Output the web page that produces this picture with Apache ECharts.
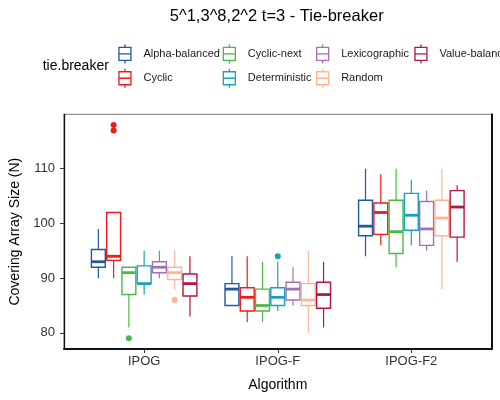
<!DOCTYPE html>
<html><head><meta charset="utf-8">
<script src="https://cdn.jsdelivr.net/npm/echarts@6/dist/echarts.min.js"></script>
<style>html,body{margin:0;padding:0;background:#fff}#c{width:500px;height:400px}</style>
</head><body><div id="c"></div>
<script>
const algorithms = ['IPOG', 'IPOG-F', 'IPOG-F2'];
const tieBreakers = ['Alpha-balanced', 'Cyclic', 'Cyclic-next', 'Deterministic', 'Lexicographic', 'Random', 'Value-balanced'];
const yTicks = [80, 90, 100, 110];
const xTicks = [1, 2, 3];

// [min, q1, median, q3, max] for IPOG, IPOG-F, IPOG-F2
const alphaBalanced = [[90, 92, 93, 95.25, 99], [85, 85, 88, 89, 94], [94, 97.75, 99.5, 104.25, 110]];
const cyclic        = [[90, 93.25, 94, 102, 102], [82, 84, 86.5, 88.25, 94], [96, 98, 102, 103.75, 109]];
const cyclicNext    = [[81, 87, 91, 92, 92], [82, 84, 85, 88, 93], [92, 94.5, 98.5, 104.25, 110]];
const deterministic = [[87, 89, 89, 92.25, 95], [84, 85, 86.5, 88.25, 93], [96, 98.75, 101.5, 105.5, 108]];
const lexicographic = [[90, 91, 92, 93, 95], [85, 86, 88, 89.25, 92], [95, 96, 99, 104, 106]];
const randomTB      = [[88, 89.75, 91, 92, 95], [80, 85, 86, 89, 95], [88, 97.75, 101, 104.25, 110]];
const valueBalanced = [[83, 86.75, 89, 90.75, 94], [81, 84.5, 87, 89.25, 93], [93, 97.5, 103, 106, 107]];

// outliers: [algorithm index, value]
const alphaBalancedOut = [];
const cyclicOut        = [[0, 117], [0, 118]];
const cyclicNextOut    = [[0, 79]];
const deterministicOut = [[1, 94]];
const lexicographicOut = [];
const randomOut        = [[0, 86]];
const valueBalancedOut = [];

const boxStats = [alphaBalanced, cyclic, cyclicNext, deterministic, lexicographic, randomTB, valueBalanced];
const outlierSets = [alphaBalancedOut, cyclicOut, cyclicNextOut, deterministicOut, lexicographicOut, randomOut, valueBalancedOut];
const colors = ['#1f5aa0', '#f01a1a', '#4cb847', '#1a9fbe', '#a46fb5', '#ffb594', '#b5173f'];

const FONT = '"Liberation Sans", Arial, Helvetica, sans-serif';
const slot = 0.8 / 7;
const halfW = 0.052;
const offsets = tieBreakers.map((_, j) => (j - 3) * slot);

const series = [];
boxStats.forEach((stats, j) => {
  const c = colors[j];
  series.push({
    type: 'custom',
    name: tieBreakers[j],
    coordinateSystem: 'cartesian2d',
    data: stats.map((s, i) => [xTicks[i]].concat(s)),
    encode: { x: 0, y: [1, 2, 3, 4, 5] },
    renderItem: function (params, api) {
      const xc = api.value(0) + offsets[j];
      const p = k => api.coord([xc, api.value(k)]);
      const L = api.coord([xc - halfW, api.value(3)])[0];
      const R = api.coord([xc + halfW, api.value(3)])[0];
      const pMin = p(1), pQ1 = p(2), pMed = p(3), pQ3 = p(4), pMax = p(5);
      const cx = pMin[0];
      return {
        type: 'group',
        children: [
          { type: 'line', shape: { x1: cx, y1: pMax[1], x2: cx, y2: pQ3[1] }, style: { stroke: c, lineWidth: 1.2 } },
          { type: 'line', shape: { x1: cx, y1: pQ1[1], x2: cx, y2: pMin[1] }, style: { stroke: c, lineWidth: 1.2 } },
          { type: 'rect', shape: { x: L, y: pQ3[1], width: R - L, height: pQ1[1] - pQ3[1] }, style: { fill: '#fff', stroke: c, lineWidth: 1.4 } },
          { type: 'line', shape: { x1: L, y1: pMed[1], x2: R, y2: pMed[1] }, style: { stroke: c, lineWidth: 2.8 } }
        ]
      };
    },
    z: 2
  });
  if (outlierSets[j].length) {
    series.push({
      type: 'scatter',
      name: tieBreakers[j],
      data: outlierSets[j].map(o => [xTicks[o[0]] + offsets[j], o[1]]),
      symbolSize: 6,
      itemStyle: { color: c, opacity: 1 },
      z: 3
    });
  }
});

const ICON = 'path://M0,3 L12,3 L12,16 L0,16 Z M6,0 L6,3 M6,16 L6,19 M0,9.5 L12,9.5';
const legendCols = [[0, 1], [2, 3], [4, 5], [6]];
const legendLefts = [118.3, 222.7, 316, 414.3];

const chart = echarts.init(document.getElementById('c'), null, { renderer: 'canvas' });
chart.setOption({
  animation: false,
  backgroundColor: '#fff',
  textStyle: { fontFamily: FONT },
  graphic: [
    { type: 'text', x: 276.7, y: 16, style: { text: '5^1,3^8,2^2 t=3 - Tie-breaker', fontSize: 16.5, fontFamily: FONT, fill: '#000', align: 'center', verticalAlign: 'middle' } },
    { type: 'text', x: 42.7, y: 66, style: { text: 'tie.breaker', fontSize: 14, fontFamily: FONT, fill: '#000', align: 'left', verticalAlign: 'middle' } }
  ],
  legend: legendCols.map((col, k) => ({
    orient: 'vertical',
    left: legendLefts[k],
    top: 43.8,
    padding: 0,
    itemGap: 4,
    itemWidth: 27,
    itemHeight: 19,
    selectedMode: false,
    textStyle: { fontSize: 11, color: '#1a1a1a', fontFamily: FONT },
    data: col.map(j => ({ name: tieBreakers[j], icon: ICON, itemStyle: { color: '#fff', borderColor: colors[j], borderWidth: 1.3 } }))
  })),
  grid: { left: 63.3, right: 8.5, top: 114.3, bottom: 51, show: true, borderColor: '#777', borderWidth: 1, containLabel: false },
  xAxis: {
    type: 'value', min: 0.4, max: 3.6,
    axisLine: { show: true, lineStyle: { color: '#111', width: 2 } },
    axisTick: { show: true, customValues: xTicks, length: 4, lineStyle: { color: '#333' } },
    axisLabel: { customValues: xTicks, formatter: v => algorithms[Math.round(v) - 1], fontSize: 13, color: '#333', margin: 6, fontFamily: FONT },
    splitLine: { show: false },
    name: 'Algorithm', nameLocation: 'middle', nameGap: 29,
    nameTextStyle: { fontSize: 14, color: '#000', fontFamily: FONT }
  },
  yAxis: [{
    type: 'value', min: 77.05, max: 119.95,
    axisLine: { show: true, lineStyle: { color: '#111', width: 1.3 } },
    axisTick: { show: true, customValues: yTicks, length: 4, lineStyle: { color: '#333' } },
    axisLabel: { customValues: yTicks, fontSize: 13, color: '#333', margin: 9, fontFamily: FONT },
    splitLine: { show: false },
    name: 'Covering Array Size (N)', nameLocation: 'middle', nameGap: 42,
    nameTextStyle: { fontSize: 14, color: '#000', fontFamily: FONT }
  }, {
    type: 'value', min: 77.05, max: 119.95, position: 'right',
    axisLine: { show: true, lineStyle: { color: '#111', width: 2 } },
    axisTick: { show: false }, axisLabel: { show: false }, splitLine: { show: false }
  }],
  series: series
});
</script>
</body></html>
